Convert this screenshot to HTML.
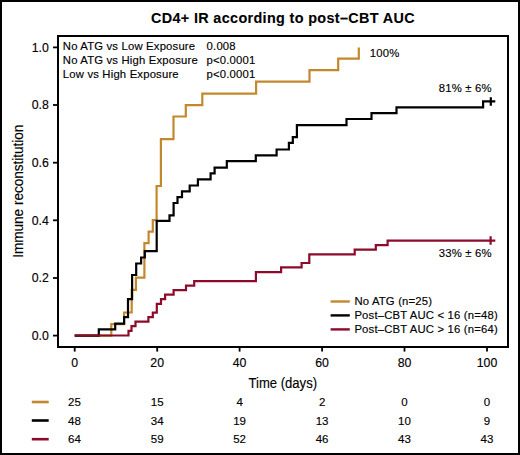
<!DOCTYPE html>
<html>
<head>
<meta charset="utf-8">
<style>
html,body{margin:0;padding:0;background:#fff;}
body{width:520px;height:455px;overflow:hidden;}
svg{display:block;}
text{font-family:"Liberation Sans",sans-serif;fill:#000;stroke:#000;stroke-width:0.15px;}
</style>
</head>
<body>
<svg width="520" height="455" viewBox="0 0 520 455">
<!-- outer border -->
<rect x="1" y="1" width="518" height="453" fill="#fff" stroke="#000" stroke-width="2"/>
<!-- title -->
<text x="283" y="23.2" text-anchor="middle" font-weight="bold" font-size="14.4" letter-spacing="0.35" style="stroke-width:0.1px">CD4+ IR according to post–CBT AUC</text>

<!-- plot box -->
<rect x="58" y="36" width="450" height="311" fill="none" stroke="#000" stroke-width="2"/>

<!-- y ticks -->
<g stroke="#000" stroke-width="1.8">
<line x1="53" y1="47.4" x2="58" y2="47.4"/>
<line x1="53" y1="105.0" x2="58" y2="105.0"/>
<line x1="53" y1="162.7" x2="58" y2="162.7"/>
<line x1="53" y1="220.3" x2="58" y2="220.3"/>
<line x1="53" y1="278.0" x2="58" y2="278.0"/>
<line x1="53" y1="335.6" x2="58" y2="335.6"/>
</g>
<g font-size="12.3" text-anchor="end">
<text x="48.8" y="51.7">1.0</text>
<text x="48.8" y="109.3">0.8</text>
<text x="48.8" y="167.0">0.6</text>
<text x="48.8" y="224.6">0.4</text>
<text x="48.8" y="282.3">0.2</text>
<text x="48.8" y="339.9">0.0</text>
</g>

<!-- x ticks -->
<g stroke="#000" stroke-width="1.8">
<line x1="74.7" y1="346.7" x2="74.7" y2="351.6"/>
<line x1="157.2" y1="346.7" x2="157.2" y2="351.6"/>
<line x1="239.6" y1="346.7" x2="239.6" y2="351.6"/>
<line x1="322.1" y1="346.7" x2="322.1" y2="351.6"/>
<line x1="404.5" y1="346.7" x2="404.5" y2="351.6"/>
<line x1="487.0" y1="346.7" x2="487.0" y2="351.6"/>
</g>
<g font-size="12.3" text-anchor="middle">
<text x="74.7" y="366.9">0</text>
<text x="157.2" y="366.9">20</text>
<text x="239.6" y="366.9">40</text>
<text x="322.1" y="366.9">60</text>
<text x="404.5" y="366.9">80</text>
<text x="487.0" y="366.9">100</text>
</g>

<!-- axis labels -->
<text x="282.8" y="387.8" text-anchor="middle" font-size="15.5" transform="translate(282.8 0) scale(0.845 1) translate(-282.8 0)">Time (days)</text>
<text x="0" y="0" text-anchor="middle" font-size="15.3" transform="translate(22.8 191.2) rotate(-90) scale(0.885 1)">Immune reconstitution</text>

<!-- annotation -->
<g font-size="11.3" letter-spacing="0.18">
<text x="62.8" y="50.1">No ATG vs Low Exposure</text>
<text x="62.8" y="63.9">No ATG vs High Exposure</text>
<text x="62.8" y="77.7">Low vs High Exposure</text>
<text x="206.6" y="50.1">0.008</text>
<text x="206.6" y="63.9">p&lt;0.0001</text>
<text x="206.6" y="77.7">p&lt;0.0001</text>
<text x="369.8" y="56.8">100%</text>
<text x="491.8" y="92.2" text-anchor="end" letter-spacing="0.2">81% ± 6%</text>
<text x="491.8" y="257.4" text-anchor="end" letter-spacing="0.2">33% ± 6%</text>
</g>

<!-- curves -->
<g fill="none" stroke-width="2.2" stroke-linejoin="miter" stroke-linecap="butt">
<path stroke="#C4882C" d="M74.7 335.6 H111.3 V324.1 H124.1 V312.5 H131.7 V289.8 H135.9 V277.6 H144.4 V243.1 H148.6 V231.7 H152.8 V220.1 H156.6 V186 H160.9 V139.2 H173.5 V116.5 H185.8 V105.2 H202.3 V93.6 H256.1 V81.7 H309.5 V70.2 H338.2 V58.7 H358.8 V47.4"/>
<path stroke="#000" d="M74.7 335.6 H98.8 V329.4 H115.2 V323.6 H124.1 V317.1 H128 V299.2 H132.1 V275 H136.2 V263.5 H141.1 V257.5 H144.8 V251.2 H156.7 V220.8 H169.5 V215.3 H173.6 V203 H177.5 V197.2 H182 V191.4 H189.7 V185.5 H197.9 V179.4 H210.6 V173.4 H214.6 V167.6 H226.8 V161.2 H255.8 V155.4 H276.6 V149.5 H288.9 V142.8 H292.8 V137.2 H296.9 V125.1 H346.5 V119 H371.5 V113.1 H396.5 V107.3 H483.1 V101.3 H495.3 M490.8 97.2 V105.8"/>
<path stroke="#8C0B2A" d="M74.7 335.5 H128.5 V330.8 H131.5 V326.2 H135.5 V321.7 H148.4 V317.2 H152.8 V312.6 H156.8 V303.8 H161 V299.1 H165.1 V294.7 H173.6 V290.1 H186 V285.6 H194.2 V281.2 H255.9 V272.1 H281.1 V267.4 H301.6 V263 H309.3 V254.3 H354.7 V249.6 H375.8 V245.2 H387.6 V240.6 H495.3 M490.6 236.2 V244.8"/>
</g>

<!-- legend -->
<g stroke-width="2.4">
<line x1="330.6" y1="301.5" x2="349.8" y2="301.5" stroke="#C4882C"/>
<line x1="330.6" y1="315.4" x2="349.8" y2="315.4" stroke="#000"/>
<line x1="330.6" y1="329.4" x2="349.8" y2="329.4" stroke="#8C0B2A"/>
</g>
<g font-size="11.3" letter-spacing="0.18">
<text x="354.4" y="305.3">No ATG (n=25)</text>
<text x="354.4" y="319.3">Post–CBT AUC &lt; 16 (n=48)</text>
<text x="354.4" y="333.3">Post–CBT AUC &gt; 16 (n=64)</text>
</g>

<!-- risk table -->
<g stroke-width="2.6">
<line x1="31.8" y1="402" x2="48.7" y2="402" stroke="#C4882C"/>
<line x1="31.8" y1="420.5" x2="48.7" y2="420.5" stroke="#000"/>
<line x1="31.8" y1="439.2" x2="48.7" y2="439.2" stroke="#8C0B2A"/>
</g>
<g font-size="11.5" text-anchor="middle">
<text x="74.5" y="406.3">25</text><text x="157.2" y="406.3">15</text><text x="239.6" y="406.3">4</text><text x="322.1" y="406.3">2</text><text x="404.5" y="406.3">0</text><text x="487.0" y="406.3">0</text>
<text x="74.5" y="424.8">48</text><text x="157.2" y="424.8">34</text><text x="239.6" y="424.8">19</text><text x="322.1" y="424.8">13</text><text x="404.5" y="424.8">10</text><text x="487.0" y="424.8">9</text>
<text x="74.5" y="443.4">64</text><text x="157.2" y="443.4">59</text><text x="239.6" y="443.4">52</text><text x="322.1" y="443.4">46</text><text x="404.5" y="443.4">43</text><text x="487.0" y="443.4">43</text>
</g>
</svg>
</body>
</html>
